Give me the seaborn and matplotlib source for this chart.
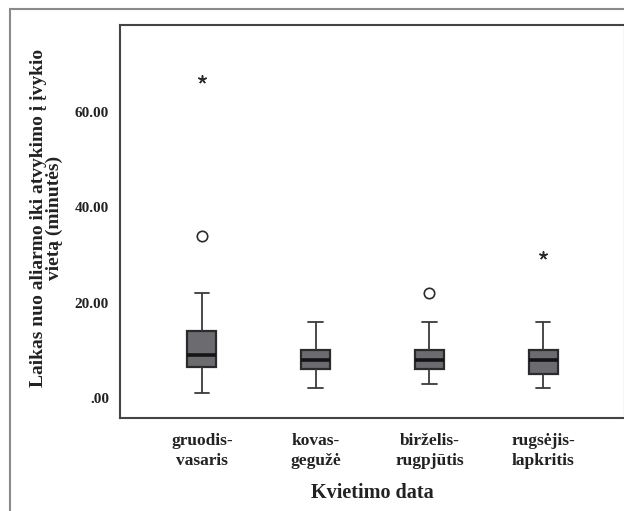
import matplotlib
matplotlib.use("Agg")
import matplotlib.pyplot as plt
import matplotlib.patches as mpatches
import pandas as pd
import seaborn as sns

# Periods of the year (categories on the x axis)
periods = ["gruodis-\nvasaris", "kovas-\ngegužė", "birželis-\nrugpjūtis", "rugsėjis-\nlapkritis"]

# Five-number summaries of response time (minutes) per period
whisker_low = [1.0, 2.0, 3.0, 2.0]
q1 = [6.5, 6.0, 6.0, 5.0]
median = [9.0, 8.0, 8.0, 8.0]
q3 = [14.0, 10.0, 10.0, 10.0]
whisker_high = [22.0, 16.0, 16.0, 16.0]

# Outliers (circles) and extreme values (asterisks)
outlier_period = ["gruodis-\nvasaris", "birželis-\nrugpjūtis"]
outlier_value = [34.0, 22.0]
extreme_period = ["gruodis-\nvasaris", "rugsėjis-\nlapkritis"]
extreme_value = [67.0, 30.0]

y_ticks = [0, 20, 40, 60]
y_tick_labels = [".00", "20.00", "40.00", "60.00"]

sns.set_style("white")
plt.rcParams["font.family"] = ["Liberation Serif", "DejaVu Serif"]
plt.rcParams["font.weight"] = "bold"

rows = []
for i, p in enumerate(periods):
    for v in (whisker_low[i], q1[i], median[i], q3[i], whisker_high[i]):
        rows.append({"period": p, "minutes": v})
box_df = pd.DataFrame(rows)
out_df = pd.DataFrame({"period": outlier_period, "minutes": outlier_value})
ext_df = pd.DataFrame({"period": extreme_period, "minutes": extreme_value})

fig = plt.figure(figsize=(6.24, 5.11), dpi=100)
fig.patch.set_facecolor("white")
ax = fig.add_axes([120 / 624, 1 - 418 / 511, 505 / 624, 393 / 511])

dark = "#2b2b2b"
sns.boxplot(
    data=box_df, x="period", y="minutes", order=periods, ax=ax,
    width=0.255, color="#6c6c70", saturation=1, whis=(0, 100),
    showfliers=False, linecolor=dark, linewidth=1.3,
    boxprops={"edgecolor": dark, "linewidth": 1.6},
    medianprops={"color": "#141414", "linewidth": 2.6},
    whiskerprops={"color": "#3a3a3a", "linewidth": 1.3},
    capprops={"color": "#3a3a3a", "linewidth": 1.3},
)
sns.stripplot(
    data=out_df, x="period", y="minutes", order=periods, ax=ax,
    jitter=False, marker="o", size=7.5, color="white",
    edgecolor="#2b2b2b", linewidth=1.2, zorder=5,
)
sns.stripplot(
    data=ext_df, x="period", y="minutes", order=periods, ax=ax,
    jitter=False, marker=(5, 2, 0), size=5.5, color="#2b2b2b",
    edgecolor="#2b2b2b", linewidth=1.1, zorder=5,
)

ax.set_xlim(-0.72, 3.72)
ax.set_ylim(-4.2, 78.3)
ax.set_yticks(y_ticks)
ax.set_yticklabels(y_tick_labels)
ax.tick_params(axis="y", direction="out", length=6, width=1.3, color="#333333",
               labelsize=11, pad=2, labelcolor="#222222")
ax.tick_params(axis="x", direction="out", length=8, width=1.3, color="#333333",
               labelsize=12.5, pad=3, labelcolor="#222222")
for lab in ax.get_xticklabels():
    lab.set_linespacing(1.35)

for side in ("left", "top", "right", "bottom"):
    ax.spines[side].set_visible(True)
    ax.spines[side].set_color("#444444")
    ax.spines[side].set_linewidth(1.5)

ax.set_xlabel("Kvietimo data", fontsize=14.5, fontweight="bold", color="#222222", labelpad=10)
ax.set_ylabel("Laikas nuo aliarmo iki atvykimo į įvykio\nvietą (minutės)", fontsize=14,
              fontweight="bold", color="#222222", labelpad=6, linespacing=0.95)
ax.yaxis.set_label_coords(-0.112, 0.51)

# Outer chart frame
frame = mpatches.Rectangle((10 / 624, -0.05), 1.1, 1 - 9 / 511 + 0.05,
                           transform=fig.transFigure, fill=False,
                           edgecolor="#8a8a8a", linewidth=1.5)
fig.patches.append(frame)

fig.savefig("out.png", dpi=100, facecolor="white")
